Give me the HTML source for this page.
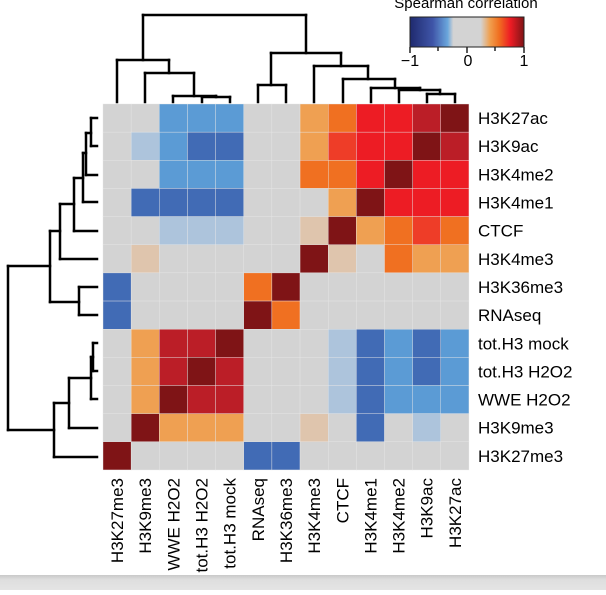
<!DOCTYPE html>
<html><head><meta charset="utf-8"><style>
html,body{margin:0;padding:0;background:#fff;}
body{width:606px;height:590px;overflow:hidden;position:relative;font-family:"Liberation Sans",Arial,sans-serif;}
svg text{font-family:"Liberation Sans",Arial,sans-serif;}
</style></head><body>
<svg id="chart" width="606" height="590" viewBox="0 0 606 590" xmlns="http://www.w3.org/2000/svg">
<defs>
<linearGradient id="cbar" x1="0" x2="1" y1="0" y2="0">
<stop offset="0" stop-color="#1f2a6e"/><stop offset="0.2" stop-color="#3f55a8"/><stop offset="0.33" stop-color="#6aa6dc"/><stop offset="0.38" stop-color="#d3d3d3"/><stop offset="0.62" stop-color="#d3d3d3"/><stop offset="0.7" stop-color="#f0a050"/><stop offset="0.78" stop-color="#f07021"/><stop offset="0.88" stop-color="#ed1c24"/><stop offset="1" stop-color="#7f1416"/>
</linearGradient>
<linearGradient id="band" x1="0" x2="0" y1="0" y2="1"><stop offset="0" stop-color="#c8c8c8"/><stop offset="0.3" stop-color="#dedede"/><stop offset="1" stop-color="#e4e4e4"/></linearGradient>
</defs>
<g id="cells"></g><g id="labels"></g><g id="dendro" fill="none" stroke="#000" stroke-width="2.5"></g>
<rect x="410" y="17" width="114" height="30" fill="url(#cbar)" stroke="#222" stroke-width="1"/>
<text x="466" y="8" font-size="15" text-anchor="middle">Spearman correlation</text>
<g stroke="#222" stroke-width="1.5"><line x1="410" y1="47" x2="410" y2="53"/><line x1="438" y1="47" x2="438" y2="51"/><line x1="467" y1="47" x2="467" y2="53"/><line x1="495" y1="47" x2="495" y2="51"/><line x1="524" y1="47" x2="524" y2="53"/></g>
<text x="410" y="66" font-size="16" text-anchor="middle">−1</text>
<text x="468" y="66" font-size="16" text-anchor="middle">0</text>
<text x="524" y="66" font-size="16" text-anchor="middle">1</text>
<rect x="0" y="575" width="606" height="15" fill="url(#band)"/>
</svg>
<script>
const colLabels=["H3K27me3","H3K9me3","WWE H2O2","tot.H3 H2O2","tot.H3 mock","RNAseq","H3K36me3","H3K4me3","CTCF","H3K4me1","H3K4me2","H3K9ac","H3K27ac"];
const rowLabels=["H3K27ac","H3K9ac","H3K4me2","H3K4me1","CTCF","H3K4me3","H3K36me3","RNAseq","tot.H3 mock","tot.H3 H2O2","WWE H2O2","H3K9me3","H3K27me3"];
const r0=[0,0,-0.45,-0.45,-0.45,0,0,0.45,0.55,0.75,0.75,0.85,1];
const r1=[0,-0.3,-0.45,-0.55,-0.55,0,0,0.45,0.65,0.75,0.75,1,0.85];
const r2=[0,0,-0.45,-0.45,-0.45,0,0,0.55,0.55,0.75,1,0.75,0.75];
const r3=[0,-0.55,-0.55,-0.55,-0.55,0,0,0,0.45,1,0.75,0.75,0.75];
const r4=[0,0,-0.3,-0.3,-0.3,0,0,0.3,1,0.45,0.55,0.65,0.55];
const r5=[0,0.3,0,0,0,0,0,1,0.3,0,0.55,0.45,0.45];
const r6=[-0.55,0,0,0,0,0.55,1,0,0,0,0,0,0];
const r7=[-0.55,0,0,0,0,1,0.55,0,0,0,0,0,0];
const r8=[0,0.45,0.85,0.85,1,0,0,0,-0.3,-0.55,-0.45,-0.55,-0.45];
const r9=[0,0.45,0.85,1,0.85,0,0,0,-0.3,-0.55,-0.45,-0.55,-0.45];
const r10=[0,0.45,1,0.85,0.85,0,0,0,-0.3,-0.55,-0.45,-0.45,-0.45];
const r11=[0,1,0.45,0.45,0.45,0,0,0.3,0,-0.55,0,-0.3,0];
const r12=[1,0,0,0,0,-0.55,-0.55,0,0,0,0,0,0];
const matrix=[r0,r1,r2,r3,r4,r5,r6,r7,r8,r9,r10,r11,r12];

const NS="http://www.w3.org/2000/svg";
const X0=103,Y0=104,CW=28.15,CH=28.15;
function xPos(i){return X0+i*CW;}
function yPos(j){return Y0+j*CH;}
function color(v){
 if(v>=0.95)return"#7f1416";if(v>=0.8)return"#bb1e27";if(v>=0.7)return"#ed1c24";if(v>=0.6)return"#ee3d28";
 if(v>=0.5)return"#f07021";if(v>=0.4)return"#efa052";if(v>=0.2)return"#dfc5ad";
 if(v>-0.2)return"#d3d3d3";if(v>-0.4)return"#adc4dc";if(v>-0.5)return"#5b9bd5";return"#416bb5";}
const cells=document.getElementById('cells');
matrix.forEach((row,j)=>row.forEach((v,i)=>{
 const r=document.createElementNS(NS,'rect');
 r.setAttribute('x',xPos(i));r.setAttribute('y',yPos(j));r.setAttribute('width',CW);r.setAttribute('height',CH);
 r.setAttribute('fill',color(v));r.setAttribute('stroke','#e6e6e6');r.setAttribute('stroke-width','0.4');
 
 
 cells.appendChild(r);}));
const lab=document.getElementById('labels');
rowLabels.forEach((t,j)=>{const e=document.createElementNS(NS,'text');
 e.setAttribute('x',478);e.setAttribute('y',yPos(j)+CH/2+6);e.setAttribute('font-size','17');e.textContent=t;
 
 
 lab.appendChild(e);});
colLabels.forEach((t,i)=>{const e=document.createElementNS(NS,'text');
 const cx=xPos(i)+CW/2+6,cy=478;
 e.setAttribute('transform','translate('+cx+','+cy+') rotate(-90)');e.setAttribute('text-anchor','end');e.setAttribute('font-size','17');e.textContent=t;
 
 
 lab.appendChild(e);});
// dendrograms (structure lines)
const topD=[[143,15,306,15],[143,15,143,60],[306,15,306,53],
[117,60,169,60],[117,60,117,102],[169,60,169,73],[145,73,194,73],[145,73,145,102],[194,73,194,96],
[173,96,216,96],[173,96,173,102],[216,96,216,97],[202,97,230,97],[202,97,202,102],[230,97,230,102],
[271,53,341,53],[271,53,271,85],[258,85,286,85],[258,85,258,102],[286,85,286,102],
[341,53,341,66],[314,66,368,66],[314,66,314,102],[368,66,368,79],[343,79,395,79],[343,79,343,102],
[395,79,395,88],[371,88,420,88],[371,88,371,102],[420,88,420,90],[399,90,440,90],[399,90,399,102],
[440,90,440,94],[427,94,455,94],[427,94,427,102],[455,94,455,102]];
const leftD=[[8,266,8,430],[8,266,50,266],[8,430,54,430],
[50,231,50,302],[50,231,60,231],[50,302,79,302],[79,287,79,315],[79,287,97,287],[79,315,97,315],
[60,204,60,259],[60,259,97,259],[60,204,74,204],[74,178,74,231],[74,231,97,231],[74,178,83,178],
[83,153,83,202],[83,202,97,202],[83,153,86,153],[86,133,86,175],[86,175,97,175],[86,133,91,133],
[91,118,91,146],[91,118,97,118],[91,146,97,146],
[54,403,54,457],[54,457,97,457],[54,403,69,403],[69,378,69,428],[69,428,97,428],[69,378,91,378],
[91,357,91,399],[91,399,97,399],[91,357,93,357],[93,343,93,371],[93,343,97,343],[93,371,97,371]];
const dg=document.getElementById('dendro');
[...topD.map(s=>['top-dendrogram-branch',s]),...leftD.map(s=>['left-dendrogram-branch',s])].forEach(([n,s])=>{
 const l=document.createElementNS(NS,'line');
 l.setAttribute('x1',s[0]);l.setAttribute('y1',s[1]);l.setAttribute('x2',s[2]);l.setAttribute('y2',s[3]);
 l.setAttribute('stroke-linecap','square');
 
 
 dg.appendChild(l);});
</script>
</body></html>
